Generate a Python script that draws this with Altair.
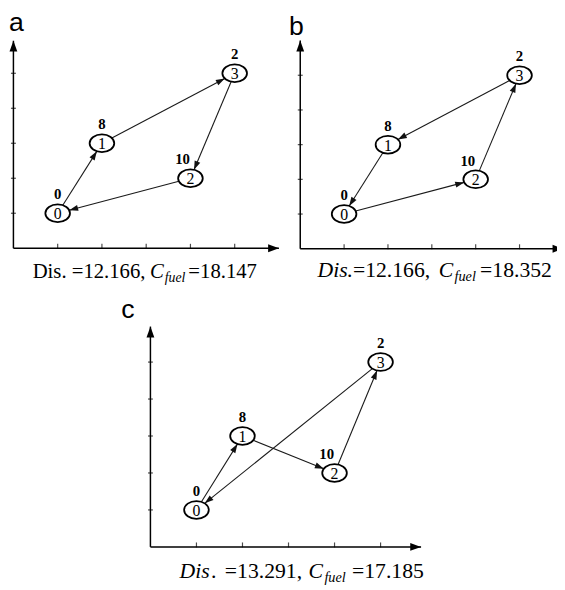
import math
import altair as alt
import pandas as pd

# ---------------- data ----------------
node_ids = [0, 1, 2, 3]
node_x = [1, 2, 4, 5]
node_y = [1, 3, 2, 5]
demands = [0, 8, 10, 2]
tick_values = [1, 2, 3, 4, 5]

routes = {
    "a": [0, 1, 3, 2, 0],
    "b": [0, 2, 3, 1, 0],
    "c": [0, 1, 2, 3, 0],
}
panel_letters = ["a", "b", "c"]
dis_values = ["12.166", "12.166", "13.291"]
fuel_values = ["18.147", "18.352", "17.185"]

# ---------------- layout ----------------
W, H = 557, 582          # whole drawing area (page coords minus 8px margin)
M = 8
RX, RY = 12.5, 9.0       # ellipse radii in px

# panel geometry: origin (page px), px per unit, axis extents
geom = {
    "a": dict(ox=13.5, ux=44.9, oy=247.5, uy=35.5, xmax=6.0, ymax=5.93),
    "b": dict(ox=304.5, ux=44.5, oy=248.0, uy=35.2, xmax=6.0, ymax=6.0),
    "c": dict(ox=152.5, ux=46.7, oy=550.5, uy=37.5, xmax=5.88, ymax=5.96),
}

k, c = RY / RX, 0.5523
ELLIPSE = (f"M 1 0 C 1 {c*k:.4f} {c:.4f} {k:.4f} 0 {k:.4f} "
           f"C {-c:.4f} {k:.4f} -1 {c*k:.4f} -1 0 "
           f"C -1 {-c*k:.4f} {-c:.4f} {-k:.4f} 0 {-k:.4f} "
           f"C {c:.4f} {-k:.4f} 1 {-c*k:.4f} 1 0 Z")
ARROW = "M 0 0 L 0.34 1 L -0.34 1 Z"
AXIS_ARROW = "M 0 0 L 0.36 1 L -0.36 1 Z"

SERIF = "Liberation Serif"
SANS = "Liberation Sans"


def panel(key):
    g = geom[key]
    o_x, o_y = g["ox"] - M, g["oy"] - M
    ux, uy = g["ux"], g["uy"]
    xs = alt.Scale(domain=[-o_x / ux, (W - o_x) / ux], nice=False, zero=False)
    ys = alt.Scale(domain=[-(H - o_y) / uy, o_y / uy], nice=False, zero=False)
    X = lambda f: alt.X(f, scale=xs, axis=None, title=None)
    Y = lambda f: alt.Y(f, scale=ys, axis=None, title=None)

    axes_df = pd.DataFrame({"x": [0, 0], "y": [0, 0],
                            "x2": [g["xmax"], 0], "y2": [0, g["ymax"]],
                            "ang": [90, 0]})
    axis_rule = alt.Chart(axes_df).mark_rule(color="black", strokeWidth=1.5).encode(
        x=X("x:Q"), y=Y("y:Q"), x2="x2:Q", y2="y2:Q")
    axis_head = alt.Chart(axes_df).mark_point(
        shape=AXIS_ARROW, filled=True, color="black", opacity=1, size=4 * 11 ** 2
    ).encode(x=X("x2:Q"), y=Y("y2:Q"), angle=alt.Angle("ang:Q", scale=None))

    tdf = pd.DataFrame({"t": tick_values, "z": [0] * len(tick_values)})
    xticks = alt.Chart(tdf).mark_tick(orient="vertical", size=5, thickness=1.2,
                                      color="black", yOffset=-2).encode(x=X("t:Q"), y=Y("z:Q"))
    yticks = alt.Chart(tdf).mark_tick(orient="horizontal", size=5, thickness=1.2,
                                      color="black").encode(x=X("z:Q"), y=Y("t:Q"))

    rows = []
    r = routes[key]
    for i, j in zip(r[:-1], r[1:]):
        x1, y1, x2, y2 = node_x[i], node_y[i], node_x[j], node_y[j]
        dxp, dyp = (x2 - x1) * ux, (y2 - y1) * uy
        L = math.hypot(dxp, dyp)
        ex, ey = dxp / L, dyp / L
        rr = 1.0 / math.sqrt((ex / RX) ** 2 + (ey / RY) ** 2)
        rows.append({
            "sx": x1 + ex * rr / ux, "sy": y1 + ey * rr / uy,
            "tx": x2 - ex * rr / ux, "ty": y2 - ey * rr / uy,
            "ang": math.degrees(math.atan2(dxp, dyp)) % 360,
        })
    edf = pd.DataFrame(rows)
    edges = alt.Chart(edf).mark_rule(color="#1a1a1a", strokeWidth=1.1).encode(
        x=X("sx:Q"), y=Y("sy:Q"), x2="tx:Q", y2="ty:Q")
    heads = alt.Chart(edf).mark_point(
        shape=ARROW, filled=True, color="#111", opacity=1, size=4 * 9 ** 2
    ).encode(x=X("tx:Q"), y=Y("ty:Q"), angle=alt.Angle("ang:Q", scale=None))

    ndf = pd.DataFrame({"id": node_ids, "x": node_x, "y": node_y, "d": demands})
    ell = alt.Chart(ndf).mark_point(
        shape=ELLIPSE, filled=True, fill="white", stroke="black",
        strokeWidth=1.8, opacity=1, size=(2 * RX) ** 2
    ).encode(x=X("x:Q"), y=Y("y:Q"))
    ids = alt.Chart(ndf).mark_text(font=SERIF, fontSize=16, baseline="middle",
                                   align="center", dy=1, color="black").encode(
        x=X("x:Q"), y=Y("y:Q"), text="id:N")
    dem_small = alt.Chart(ndf[ndf["d"] < 10]).mark_text(
        font=SERIF, fontSize=15, fontWeight="bold", baseline="alphabetic",
        align="center", dy=-14, color="black").encode(x=X("x:Q"), y=Y("y:Q"), text="d:N")
    dem_big = alt.Chart(ndf[ndf["d"] >= 10]).mark_text(
        font=SERIF, fontSize=15, fontWeight="bold", baseline="alphabetic",
        align="center", dy=-14, dx=-8, color="black").encode(x=X("x:Q"), y=Y("y:Q"), text="d:N")

    return alt.layer(axis_rule, xticks, yticks, axis_head, edges, heads, ell, ids,
                     dem_small, dem_big)


# ---------------- text (letters + captions), pixel placed ----------------
letters_df = pd.DataFrame({"t": panel_letters,
                           "px": [9 - M, 293 - M, 123 - M],
                           "py": [27 - M, 31 - M, 318 - M]})
letters = alt.Chart(letters_df).mark_text(font=SANS, fontSize=27, align="left",
                                          baseline="alphabetic", color="black").encode(
    x=alt.X("px:Q", scale=None), y=alt.Y("py:Q", scale=None), text="t:N")

normal_parts = pd.DataFrame({
    "t": ["Dis. =" + dis_values[0] + ",", "=" + fuel_values[0],
          "=" + dis_values[1] + ",", "=" + fuel_values[1],
          ".", "=" + dis_values[2] + ",", "=" + fuel_values[2]],
    "px": [33, 191, 358, 487, 214, 228, 357],
    "py": [278, 278, 277, 277, 582, 582, 582],
    "s": [21, 21, 22, 22, 22, 22, 22],
})
italic_parts = pd.DataFrame({
    "t": ["C", "Dis.", "C", "Dis", "C"],
    "px": [152, 322, 445, 182, 313],
    "py": [278, 277, 277, 582, 582],
    "s": [21, 22, 22, 22, 22],
})
sub_parts = pd.DataFrame({
    "t": ["fuel", "fuel", "fuel"],
    "px": [167, 461, 329],
    "py": [282, 281, 586],
    "s": [14, 14.5, 14.5],
})


def txt(df, **kw):
    d = df.copy()
    d["px"] = d["px"] - M
    d["py"] = d["py"] - M
    return alt.Chart(d).mark_text(font=SERIF, align="left", baseline="alphabetic",
                                  color="black", **kw).encode(
        x=alt.X("px:Q", scale=None), y=alt.Y("py:Q", scale=None), text="t:N",
        size=alt.Size("s:Q", scale=None))


cap_n = txt(normal_parts)
cap_i = txt(italic_parts, fontStyle="italic")
cap_s = txt(sub_parts, fontStyle="italic")

chart = alt.layer(panel("a"), panel("b"), panel("c"), letters, cap_n, cap_i, cap_s).resolve_scale(
    x="independent", y="independent"
).properties(
    width=W, height=H, padding=0,
    autosize=alt.AutoSizeParams(type="none"),
    background="white",
).configure_view(stroke=None)

chart.save("out.html", embed_options={"renderer": "svg", "actions": False})
